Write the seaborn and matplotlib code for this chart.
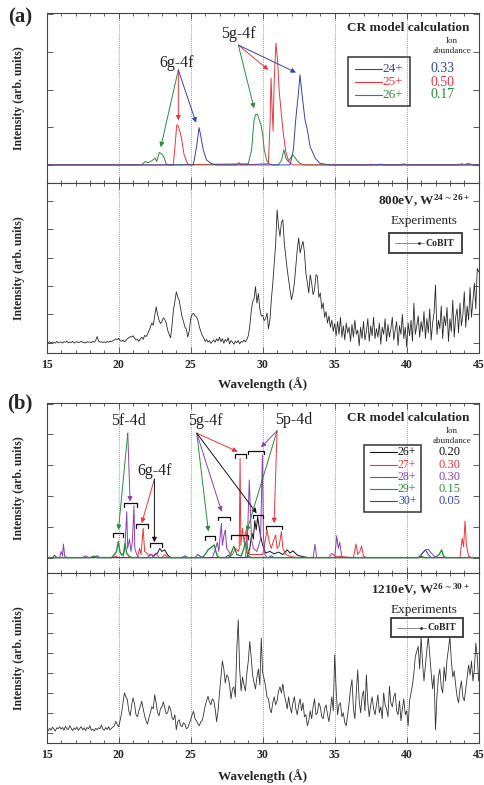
import numpy as np
import pandas as pd
import matplotlib
matplotlib.use('Agg')
import matplotlib.pyplot as plt
import seaborn as sns
from matplotlib.ticker import MultipleLocator
from matplotlib.patches import Rectangle
from matplotlib.lines import Line2D

sns.set_style('ticks')
plt.rcParams['font.family'] = ['Liberation Serif', 'DejaVu Serif']
plt.rcParams['mathtext.fontset'] = 'custom'
plt.rcParams['mathtext.rm'] = 'Liberation Serif'
plt.rcParams['mathtext.bf'] = 'Liberation Serif:bold'
plt.rcParams['mathtext.default'] = 'regular'

# ---------------- data ----------------
wl_exp = np.round(np.linspace(15, 45, 301), 1)

exp_a = [
    0.02, 0.00, 0.04, -0.02, 0.03, 0.01, -0.01, 0.05, 0.00, 0.02,
    0.03, -0.01, 0.04, 0.02, 0.06, 0.00, 0.03, 0.01, 0.05, -0.01,
    0.02, 0.04, 0.00, 0.03, 0.05, 0.01, 0.02, -0.01, 0.04, 0.02,
    0.03, 0.01, 0.05, 0.02, 0.08, 0.22, 0.06, 0.02, 0.04, 0.01,
    0.03, 0.00, 0.05, 0.02, 0.06, 0.04, 0.08, 0.10, 0.14, 0.11,
    0.16, 0.08, 0.05, 0.10, 0.03, 0.08, 0.14, 0.18, 0.22, 0.20,
    0.25, 0.16, 0.10, 0.12, 0.05, 0.14, 0.20, 0.12, 0.26, 0.22,
    0.30, 0.42, 0.55, 0.70, 0.62, 0.95, 1.27, 1.00, 0.80, 0.68,
    0.75, 0.88, 0.82, 0.70, 0.45, 0.30, 0.18, 0.60, 1.15, 1.45,
    1.80, 1.62, 1.50, 1.20, 0.92, 0.75, 0.55, 0.48, 0.20, 0.42,
    0.86, 1.00, 1.04, 0.95, 0.92, 0.80, 0.57, 0.40, 0.27, 0.18,
    0.05, 0.12, 0.02, 0.08, -0.02, 0.04, 0.10, 0.02, 0.14, 0.06,
    0.20, 0.04, 0.15, -0.02, 0.12, 0.05, 0.18, -0.04, 0.08, 0.02,
    -0.05, 0.06, 0.00, 0.08, -0.04, 0.05, 0.02, 0.10, 0.03, 0.12,
    0.25, 0.57, 1.10, 1.45, 1.55, 1.98, 1.40, 1.74, 1.20, 0.95,
    0.97, 0.78, 0.85, 1.05, 0.50, 0.80, 1.52, 2.10, 2.81, 3.50,
    4.69, 4.10, 3.76, 4.25, 4.34, 3.52, 3.05, 2.60, 2.23, 1.85,
    1.52, 1.75, 2.11, 2.70, 3.29, 3.70, 3.17, 3.40, 3.58, 3.20,
    2.46, 2.10, 1.76, 2.40, 2.11, 1.70, 1.87, 2.40, 2.34, 1.60,
    1.76, 1.20, 1.41, 0.90, 1.10, 0.70, 0.95, 0.55, 0.80, 0.40,
    0.68, 0.25, 0.75, 0.30, 0.90, 0.20, 0.60, 0.10, 0.70, 0.35,
    0.55, 0.05, 0.65, 0.20, 0.80, 0.30, 0.45, -0.10, 0.55, 0.15,
    0.75, 0.10, 0.40, 0.85, 0.05, 0.60, 0.25, 0.90, 0.15, 0.50,
    0.20, 0.70, -0.05, 0.55, 0.30, 0.85, 0.05, 0.65, 0.20, 0.50,
    0.90, 0.10, 0.45, 0.75, -0.10, 0.60, 0.30, 1.00, 0.15, 0.55,
    -0.15, 0.70, 0.25, 0.80, 0.05, 1.40, 0.30, 0.60, 0.95, 0.20,
    0.75, 0.40, 1.10, 0.15, 0.85, 0.35, 1.20, 0.10, 0.70, 1.05,
    2.04, 0.30, 0.80, 0.50, 1.30, 0.15, 0.95, 0.60, 1.25, 0.05,
    0.85, 0.40, 1.50, 0.20, 0.90, 1.20, 0.35, 1.40, 0.60, 1.00,
    1.80, 0.55, 1.30, 0.80, 1.95, 0.90, 1.50, 2.10, 1.20, 2.63,
    2.50]

exp_b = [
    0.15, 0.10, 0.22, 0.12, 0.28, 0.18, 0.08, 0.25, 0.20, 0.30,
    0.18, 0.26, 0.12, 0.32, 0.20, 0.15, 0.35, 0.22, 0.10, 0.24,
    0.16, 0.28, 0.12, 0.22, 0.30, 0.14, 0.24, 0.10, 0.26, 0.20,
    0.34, 0.12, 0.18, 0.08, 0.22, 0.15, 0.25, 0.20, 0.38, 0.18,
    0.12, 0.26, 0.16, 0.30, 0.14, 0.22, 0.28, 0.35, 0.57, 0.40,
    0.30, 0.62, 1.00, 1.50, 2.00, 1.80, 1.67, 1.10, 0.85, 1.40,
    1.75, 1.45, 0.90, 0.80, 1.10, 1.33, 1.58, 1.20, 0.85, 0.60,
    0.43, 0.75, 1.00, 1.30, 1.20, 1.91, 1.50, 1.00, 0.85, 1.20,
    1.30, 1.55, 1.25, 0.95, 1.00, 1.35, 1.20, 0.75, 0.65, 0.90,
    0.15, 0.55, 0.65, 0.35, 0.30, 0.50, 0.42, 0.20, 0.25, 0.45,
    0.65, 0.90, 1.08, 0.70, 0.60, 0.45, 0.35, 0.55, 0.60, 0.95,
    1.33, 1.60, 1.83, 1.55, 1.40, 1.70, 1.62, 1.20, 0.55, 1.10,
    2.00, 2.80, 3.60, 3.20, 2.50, 2.90, 2.80, 2.40, 1.70, 2.20,
    2.30, 1.80, 4.17, 5.68, 3.20, 2.10, 2.80, 2.40, 2.10, 3.00,
    3.60, 4.59, 3.80, 2.90, 2.50, 2.20, 2.80, 3.20, 2.40, 4.76,
    3.00, 2.70, 2.33, 1.80, 1.70, 1.20, 1.00, 1.50, 1.80, 1.40,
    1.60, 2.10, 2.30, 2.00, 2.45, 1.90, 1.60, 1.20, 1.80, 1.30,
    1.00, 1.50, 1.80, 1.20, 0.90, 1.40, 1.70, 1.10, 1.50, 0.80,
    0.90, 0.35, 0.60, 1.10, 0.70, 1.30, 1.70, 0.90, 1.00, 1.50,
    1.30, 0.80, 0.70, 1.20, 1.40, 0.90, 0.55, 1.10, 1.80, 1.10,
    3.92, 2.20, 0.90, 1.40, 1.50, 0.80, 1.00, 0.50, 0.35, 0.90,
    1.50, 2.20, 2.67, 1.20, 0.70, 2.00, 3.16, 1.60, 1.00, 1.80,
    2.10, 1.10, 2.91, 1.50, 0.80, 1.40, 1.80, 1.20, 0.90, 1.40,
    1.90, 1.00, 1.30, 0.70, 2.00, 1.40, 1.20, 0.80, 2.33, 1.50,
    1.30, 1.80, 2.00, 1.10, 0.90, 1.60, 0.60, 1.20, 1.70, 0.90,
    1.10, 0.35, 1.60, 2.00, 2.40, 3.00, 3.84, 4.10, 4.34, 3.20,
    4.84, 3.50, 2.60, 3.40, 4.17, 4.84, 3.90, 3.00, 2.20, 2.90,
    0.15, 1.80, 2.80, 3.20, 2.30, 2.00, 3.30, 2.60, 3.68, 4.20,
    4.84, 3.60, 2.80, 3.10, 2.40, 1.80, 1.50, 2.20, 2.60, 1.80,
    1.60, 2.20, 2.80, 3.40, 2.90, 3.60, 2.60, 3.20, 4.51, 3.80,
    2.60]

# (a) CR model: W24+, W25+, W26+
a_blue_x = [15, 25.18, 25.41, 25.58, 25.71, 25.87, 26.10, 26.45, 26.8, 31.9, 32.13, 32.29,
            32.48, 32.59, 32.75, 32.94, 33.10, 33.29, 33.64, 33.98, 34.7, 38.0, 38.2, 38.4, 45]
a_blue_y = [0, 0, 0.49, 0.99, 0.75, 0.40, 0.13, 0.03, 0, 0, 0.40, 1.19,
            1.90, 2.39, 1.81, 1.19, 0.93, 0.49, 0.18, 0.04, 0, 0, 0.02, 0, 0]
a_red_x = [15, 23.79, 23.91, 24.03, 24.14, 24.26, 24.38, 24.54, 24.77, 24.95, 28.2, 28.35, 28.5,
           30.39, 30.51, 30.58, 30.65, 30.72, 30.80, 30.92, 31.03, 31.14, 31.28, 31.42, 31.60,
           31.84, 32.1, 37.3, 37.5, 37.7, 39.6, 39.8, 40.0, 43.6, 43.8, 44.0, 44.3, 44.6, 45]
a_red_y = [0, 0, 0.49, 1.06, 1.03, 0.88, 0.66, 0.27, 0.04, 0, 0, 0.06, 0,
           0.03, 1.10, 2.30, 1.55, 0.90, 2.25, 3.23, 2.79, 1.99, 1.41, 0.88, 0.35,
           0.06, 0, 0, 0.02, 0, 0, 0.03, 0, 0, 0.03, 0.01, 0.04, 0, 0]
a_green_x = [15, 21.6, 21.83, 22.06, 22.30, 22.53, 22.64, 22.82, 22.99, 23.15, 23.29, 23.45,
             29.0, 29.23, 29.40, 29.51, 29.63, 29.77, 29.88, 30.00, 30.11, 30.27, 30.46,
             30.7, 31.1, 31.31, 31.47, 31.61, 31.77, 32.00, 32.10, 32.36, 32.59, 32.9, 45]
a_green_y = [0, 0, 0.09, 0.06, 0.11, 0.18, 0.09, 0.33, 0.29, 0.20, 0.03, 0,
             0.03, 0.40, 1.19, 1.33, 1.35, 1.19, 1.06, 0.80, 0.40, 0.13, 0.03,
             0, 0, 0.13, 0.40, 0.18, 0.09, 0.22, 0.27, 0.13, 0.04, 0, 0]

# (b) CR model: W26+ .. W30+
b_black_x = [15, 22.3, 22.5, 22.7, 22.85, 23.0, 23.2, 23.4, 23.6, 28.9, 29.1, 29.25, 29.35, 29.45,
             29.55, 29.65, 29.75, 29.85, 30.0, 30.2, 30.5, 30.8, 31.1, 31.4, 31.7, 31.9, 32.1,
             32.4, 32.8, 33.2, 45]
b_black_y = [0, 0, 0.08, 0.15, 0.30, 0.20, 0.25, 0.08, 0, 0, 0.30, 0.80, 0.60, 1.20,
             0.90, 1.33, 1.00, 0.70, 0.40, 0.15, 0.20, 0.12, 0.18, 0.10, 0.25, 0.15, 0.22,
             0.08, 0.03, 0, 0]
b_red_x = [15, 19.6, 19.8, 20.0, 21.3, 21.45, 21.55, 21.70, 21.80, 21.95, 22.1, 22.3, 22.5,
           23.0, 23.2, 23.4, 27.6, 27.9, 28.1, 28.3, 28.37, 28.43, 28.48, 28.6, 28.7, 28.85,
           28.95, 29.1, 30.0, 30.2, 30.3, 30.45, 30.6, 30.75, 30.9, 31.0, 31.15, 31.3, 31.4,
           31.6, 32.0, 32.4, 34.6, 34.8, 35.0, 36.3, 36.48, 36.6, 36.75, 36.87, 37.0, 37.2,
           43.7, 43.85, 43.95, 44.05, 44.15, 44.3, 44.5, 45]
b_red_y = [0, 0, 0.05, 0, 0, 0.30, 0.10, 0.95, 0.20, 0.15, 0.05, 0.10, 0,
           0, 0.10, 0, 0, 0.10, 0.30, 0.20, 0.30, 3.23, 0.40, 0.95, 0.50, 0.90,
           0.30, 0.10, 0.10, 0.60, 0.90, 0.50, 0.30, 0.55, 0.73, 0.30, 0.40, 0.85, 0.30,
           0.10, 0.03, 0, 0, 0.14, 0.05, 0, 0.44, 0.10, 0.20, 0.38, 0.05, 0,
           0, 0.63, 0.35, 1.19, 0.40, 0.05, 0, 0]
b_purple_x = [15, 15.9, 16.0, 16.1, 16.16, 16.25, 16.4, 17.5, 17.7, 17.9, 20.3, 20.45, 20.56,
              20.62, 20.75, 20.85, 20.95, 21.06, 21.12, 21.25, 21.4, 22.0, 22.2, 22.4, 22.6,
              22.8, 26.5, 26.7, 26.85, 26.95, 27.13, 27.2, 27.3, 27.4, 27.5, 27.65, 27.8,
              28.8, 28.95, 29.07, 29.15, 29.22, 29.35, 29.6, 29.85, 29.98, 30.05, 30.15, 30.3,
              33.5, 33.63, 33.75, 35.0, 35.14, 35.25, 35.35, 35.5, 40.8, 41.0, 41.3, 41.5,
              41.7, 41.9, 42.1, 45]
b_purple_y = [0, 0, 0.20, 0.05, 0.44, 0.05, 0, 0, 0.06, 0, 0, 0.50, 1.49,
              0.30, 0.60, 0.20, 0.50, 1.69, 0.30, 0.10, 0, 0, 0.12, 0.05, 0.15,
              0, 0, 0.25, 0.50, 0.20, 1.11, 0.40, 0.70, 0.90, 0.30, 0.20, 0,
              0, 0.80, 2.52, 1.50, 0.60, 0.30, 0.20, 0.60, 3.33, 0.70, 0.10, 0,
              0, 0.43, 0, 0, 0.71, 0.30, 0.50, 0, 0, 0.10, 0.25, 0.27,
              0.15, 0.05, 0, 0]
b_green_x = [15, 18.0, 18.3, 18.5, 19.5, 19.7, 19.85, 19.97, 20.08, 20.2, 20.35, 20.44, 20.55,
             20.7, 20.9, 25.8, 26.0, 26.2, 26.4, 26.55, 26.64, 26.75, 26.85, 27.0, 27.7,
             27.85, 28.0, 28.1, 28.2, 28.5, 28.7, 28.78, 28.9, 29.0, 29.2, 40.8, 41.0, 41.2,
             42.0, 42.25, 42.43, 42.55, 42.7, 45]
b_green_y = [0, 0, 0.05, 0, 0, 0.10, 0.20, 0.52, 0.20, 0.08, 0.15, 0.46, 0.15,
             0.05, 0, 0, 0.10, 0.25, 0.32, 0.38, 0.41, 0.20, 0.05, 0, 0,
             0.20, 0.36, 0.25, 0.10, 0.05, 0.30, 0.52, 0.20, 0.05, 0, 0, 0.05, 0,
             0, 0.10, 0.25, 0.05, 0, 0]
b_blue_x = [15, 15.4, 15.55, 15.7, 18.3, 18.5, 18.7, 24.4, 24.6, 24.8, 25.3, 25.5, 25.7, 25.9,
            27.4, 27.6, 27.8, 30.4, 30.6, 30.8, 40.9, 41.1, 41.3, 41.5, 41.7, 45]
b_blue_y = [0, 0, 0.08, 0, 0, 0.06, 0, 0, 0.06, 0, 0, 0.10, 0.03, 0,
            0, 0.08, 0, 0, 0.06, 0, 0, 0.15, 0.25, 0.10, 0, 0]

# bracket groups in (b)
br_x0 = [19.6, 20.4, 21.2, 22.2, 26.0, 26.9, 27.8, 28.1, 29.0, 29.3, 30.2]
br_x1 = [20.3, 21.25, 22.0, 23.0, 26.7, 27.7, 29.0, 28.85, 30.1, 30.05, 31.35]
br_y = [0.79, 1.76, 1.08, 0.47, 0.70, 1.33, 0.74, 3.36, 3.47, 1.39, 1.04]

a_ions = ['24+', '25+', '26+']
a_abund = ['0.33', '0.50', '0.17']
b_ions = ['26+', '27+', '28+', '29+', '30+']
b_abund = ['0.20', '0.30', '0.30', '0.15', '0.05']

# ---------------- style ----------------
C_BLUE = '#3644a6'
C_RED = '#e8363c'
C_GREEN = '#2a8c3c'
C_PURPLE = '#8b3fb3'
C_BLACK = '#111111'
SPINE = '#444444'

W, H = 485, 785
fig = plt.figure(figsize=(W / 100, H / 100), dpi=100)


def fx(x):
    return x / W


def fy(y):
    return 1 - y / H


def make_ax(top, bottom):
    return fig.add_axes([fx(46.7), fy(bottom), 432 / W, (bottom - top) / H])


def setup(ax, ylim, yticks, labels):
    ax.set_xlim(15, 45)
    ax.set_ylim(*ylim)
    ax.set_xticks([15, 20, 25, 30, 35, 40, 45])
    ax.xaxis.set_minor_locator(MultipleLocator(1))
    ax.set_yticks(yticks)
    ax.set_yticklabels([])
    ax.tick_params(which='both', direction='in', top=True, right=True,
                   color=SPINE, width=0.6)
    ax.tick_params(which='major', length=4)
    ax.tick_params(which='minor', length=2.5)
    if labels:
        ax.set_xticklabels(['15', '20', '25', '30', '35', '40', '45'],
                           fontweight='bold', fontsize=8.5)
        ax.tick_params(axis='x', pad=4)
    else:
        ax.set_xticklabels([])
    for xv in [20, 25, 30, 35, 40]:
        ax.axvline(xv, color='#777777', ls=(0, (1, 1.5)), lw=0.6, zorder=0)
    for s in ax.spines.values():
        s.set_color(SPINE)
        s.set_linewidth(0.8)
    ax.set_xlabel('')
    ax.set_ylabel('')


def line(ax, x, y, color, lw=0.7):
    sns.lineplot(x=x, y=y, ax=ax, color=color, lw=lw, estimator=None,
                 sort=False, errorbar=None, legend=False)


def arrow(ax, tip, origin, color):
    ax.annotate('', xy=tip, xytext=origin, textcoords='data',
                arrowprops=dict(arrowstyle='-|>', color=color, lw=0.7,
                                mutation_scale=7, shrinkA=0, shrinkB=0))


# ---------------- (a) ----------------
ax1 = make_ax(13, 183)
line(ax1, a_green_x, a_green_y, C_GREEN)
line(ax1, a_red_x, a_red_y, C_RED)
line(ax1, a_blue_x, a_blue_y, C_BLUE)
setup(ax1, (-0.48, 4.03), [0, 1, 2, 3, 4], False)

ax1.text(24.03, 2.71, '6g-4f', ha='center', va='center', fontsize=11.5, color='#222')
ax1.text(28.3, 3.47, '5g-4f', ha='center', va='center', fontsize=11.5, color='#222')
arrow(ax1, (22.92, 0.47), (24.14, 2.52), C_GREEN)
arrow(ax1, (24.14, 1.18), (24.14, 2.52), C_RED)
arrow(ax1, (25.37, 1.12), (24.14, 2.52), C_BLUE)
arrow(ax1, (29.4, 1.5), (28.31, 3.18), C_GREEN)
arrow(ax1, (30.39, 2.52), (28.31, 3.18), C_RED)
arrow(ax1, (32.31, 2.45), (28.31, 3.18), C_BLUE)

ax2 = make_ax(183, 353)
line(ax2, wl_exp, exp_a, '#2a2a2a', lw=0.6)
setup(ax2, (-0.36, 5.64), [0, 1, 2, 3, 4, 5], True)

# ---------------- (b) ----------------
ax3 = make_ax(403, 573)
line(ax3, b_black_x, b_black_y, C_BLACK)
line(ax3, b_red_x, b_red_y, C_RED)
line(ax3, b_purple_x, b_purple_y, C_PURPLE)
line(ax3, b_blue_x, b_blue_y, C_BLUE)
line(ax3, b_green_x, b_green_y, C_GREEN, lw=1.0)
setup(ax3, (-0.5, 5.02), [0, 1, 2, 3, 4, 5], False)

for x0, x1, yb in zip(br_x0, br_x1, br_y):
    ax3.plot([x0, x0, x1, x1], [yb - 0.12, yb, yb, yb - 0.12], color='#111', lw=0.9)

ax3.text(20.67, 4.42, '5f-4d', ha='center', va='center', fontsize=11.5, color='#222')
ax3.text(22.52, 2.82, '6g-4f', ha='center', va='center', fontsize=11.5, color='#222')
ax3.text(26.0, 4.42, '5g-4f', ha='center', va='center', fontsize=11.5, color='#222')
ax3.text(32.13, 4.47, '5p-4d', ha='center', va='center', fontsize=11.5, color='#222')
arrow(ax3, (19.98, 0.9), (20.63, 4.04), C_GREEN)
arrow(ax3, (20.79, 1.82), (20.63, 4.04), C_PURPLE)
arrow(ax3, (21.6, 1.12), (22.48, 2.55), C_RED)
arrow(ax3, (22.48, 0.5), (22.48, 2.55), C_BLACK)
arrow(ax3, (26.23, 0.85), (25.42, 4.04), C_GREEN)
arrow(ax3, (27.15, 1.49), (25.42, 4.04), C_PURPLE)
arrow(ax3, (28.26, 3.44), (25.42, 4.04), C_RED)
arrow(ax3, (29.58, 1.44), (25.42, 4.04), C_BLACK)
arrow(ax3, (29.88, 3.58), (31.0, 4.12), C_PURPLE)
arrow(ax3, (28.89, 0.85), (31.0, 4.12), C_GREEN)
arrow(ax3, (30.79, 1.12), (31.0, 4.12), C_RED)

ax4 = make_ax(573, 743)
line(ax4, wl_exp, exp_b, '#333333', lw=0.6)
setup(ax4, (-0.52, 8.03), [0, 1, 2, 3, 4, 5, 6, 7], True)

# ---------------- figure-level text ----------------
fig.text(fx(20), fy(17), '(a)', fontsize=15, fontweight='bold', ha='center', va='center')
fig.text(fx(20), fy(403), '(b)', fontsize=15, fontweight='bold', ha='center', va='center')

for top, bottom in [(13, 183), (183, 353), (403, 573), (573, 743)]:
    fig.text(fx(19.5), fy((top + bottom) / 2), 'Intensity (arb. units)', rotation=90,
             fontsize=8.5, fontweight='bold', ha='center', va='center')

fig.text(fx(262.7), fy(384), 'Wavelength (Å)', fontsize=9.5, fontweight='bold',
         ha='center', va='center')
fig.text(fx(262.7), fy(776), 'Wavelength (Å)', fontsize=9.5, fontweight='bold',
         ha='center', va='center')


def cr_legend(title_y, box, entries, colors, abund, ab_x, line_x, txt_x, fs_ion, fs_ab):
    fig.text(fx(408), fy(title_y), 'CR model calculation', fontsize=9.5, fontweight='bold',
             ha='center', va='center')
    fig.text(fx(452), fy(title_y + 13), 'Ion', fontsize=6.5, ha='center', va='center')
    fig.text(fx(452), fy(title_y + 22.5), 'abundance', fontsize=6.5, ha='center', va='center')
    x0, y0, x1, y1 = box
    fig.add_artist(Rectangle((fx(x0), fy(y1)), (x1 - x0) / W, (y1 - y0) / H,
                             transform=fig.transFigure, fill=False, ec='#333', lw=1.1))
    for (yy, lab), c, ab in zip(entries, colors, abund):
        fig.add_artist(Line2D([fx(line_x[0]), fx(line_x[1])], [fy(yy), fy(yy)],
                              color=c, lw=0.8, transform=fig.transFigure))
        fig.text(fx(txt_x), fy(yy), lab, fontsize=fs_ion, color=c, ha='left', va='center')
        fig.text(fx(ab_x), fy(yy), ab, fontsize=fs_ab, color=c, ha='center', va='center')


cr_legend(28.3, (348.3, 56.7, 410, 106),
          list(zip([69, 82, 95], a_ions)), [C_BLUE, C_RED, C_GREEN], a_abund,
          442.5, (355, 381.7), 382, 9.5, 10)
cr_legend(418.3, (364, 445, 420.7, 511.7),
          list(zip([452.3, 464.7, 477, 489, 501], b_ions)),
          [C_BLACK, C_RED, C_PURPLE, C_GREEN, C_BLUE], b_abund,
          450, (370, 396.7), 398, 8.5, 9)


def exp_legend(title_y, title, box):
    fig.text(fx(470), fy(title_y), title, fontsize=9.5, fontweight='bold',
             ha='right', va='center')
    fig.text(fx(424), fy(title_y + 20), 'Experiments', fontsize=9.5,
             ha='center', va='center')
    x0, y0, x1, y1 = box
    fig.add_artist(Rectangle((fx(x0), fy(y1)), (x1 - x0) / W, (y1 - y0) / H,
                             transform=fig.transFigure, fill=False, ec='#444', lw=1.4))
    ym = (y0 + y1) / 2
    fig.add_artist(Line2D([fx(x0 + 6), fx(x0 + 35)], [fy(ym), fy(ym)], color='#777',
                          lw=0.6, transform=fig.transFigure))
    fig.add_artist(Line2D([fx(x0 + 30)], [fy(ym)], color='#222', marker='.', ms=2,
                          transform=fig.transFigure))
    fig.text(fx(x0 + 37), fy(ym), 'CoBIT', fontsize=7, fontweight='bold',
             ha='left', va='center')


exp_legend(200.7, r'800eV, W$^{24{\sim}26+}$', (389, 233, 462, 253))
exp_legend(590, r'1210eV, W$^{26{\sim}30+}$', (390.7, 618, 462.7, 637))

fig.savefig('out.png', dpi=100)
